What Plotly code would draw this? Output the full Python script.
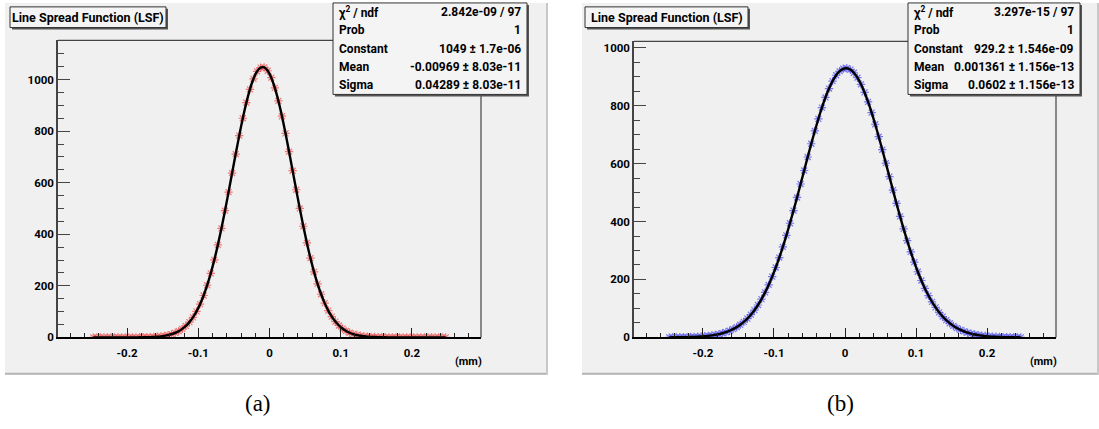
import plotly.graph_objects as go

# ---------------- data ----------------
bin_low, bin_high, n_bins = -0.25, 0.25, 100
bin_width = (bin_high - bin_low) / n_bins
x_mm = [round(bin_low + bin_width * (i + 0.5), 4) for i in range(n_bins)]

lsf_a = [0.0, 0.0, 0.0, 0.0, 0.0, 0.0, 0.0, 0.0, 0.0, 0.0,
         0.1, 0.1, 0.2, 0.3, 0.5, 0.8, 1.2, 1.8, 2.8, 4.1,
         6.0, 8.7, 12.4, 17.4, 24.1, 33.0, 44.5, 59.3, 77.9, 100.9,
         129.0, 162.6, 202.4, 248.3, 300.6, 359.0, 422.9, 491.5, 563.6, 637.5,
         711.3, 782.8, 850.1, 910.7, 962.4, 1003.2, 1031.8, 1046.7, 1047.6, 1034.4,
         1007.5, 968.1, 917.6, 858.0, 791.5, 720.4, 646.6, 572.7, 500.3, 431.2,
         366.6, 307.5, 254.4, 207.7, 167.3, 132.9, 104.1, 80.5, 61.4, 46.2,
         34.3, 25.1, 18.1, 12.9, 9.1, 6.3, 4.3, 2.9, 1.9, 1.3,
         0.8, 0.5, 0.3, 0.2, 0.1, 0.1, 0.0, 0.0, 0.0, 0.0,
         0.0, 0.0, 0.0, 0.0, 0.0, 0.0, 0.0, 0.0, 0.0, 0.0]

lsf_b = [0.2, 0.3, 0.4, 0.5, 0.7, 0.9, 1.3, 1.7, 2.3, 3.0,
         4.0, 5.2, 6.8, 8.8, 11.3, 14.4, 18.2, 22.9, 28.6, 35.4,
         43.7, 53.5, 65.0, 78.4, 94.0, 111.9, 132.3, 155.4, 181.1, 209.8,
         241.3, 275.6, 312.6, 352.1, 394.0, 437.8, 483.0, 529.4, 576.1, 622.7,
         668.4, 712.6, 754.4, 793.2, 828.3, 859.0, 884.7, 904.9, 919.2, 927.3,
         929.0, 924.4, 913.4, 896.4, 873.6, 845.6, 812.8, 776.0, 735.7, 692.7,
         647.8, 601.5, 554.8, 508.2, 462.3, 417.6, 374.7, 333.8, 295.4, 259.6,
         226.6, 196.4, 169.1, 144.5, 122.7, 103.5, 86.6, 72.0, 59.5, 48.8,
         39.8, 32.2, 25.8, 20.6, 16.3, 12.9, 10.1, 7.8, 6.0, 4.6,
         3.5, 2.6, 2.0, 1.5, 1.1, 0.8, 0.6, 0.4, 0.3, 0.2]

x_tickvals = [-0.2, -0.1, 0.0, 0.1, 0.2]
x_ticktext = ["-0.2", "-0.1", "0", "0.1", "0.2"]
y_tickvals = [0, 200, 400, 600, 800, 1000]
y_ticktext = ["0", "200", "400", "600", "800", "1000"]

title_text = "Line Spread Function (LSF)"
stat_names = ["χ<sup>2</sup> / ndf", "Prob", "Constant", "Mean", "Sigma"]
stats_a = ["2.842e-09 / 97", "1", "1049 ± 1.7e-06", "-0.00969 ± 8.03e-11", "0.04289 ± 8.03e-11"]
stats_b = ["3.297e-15 / 97", "1", "929.2 ± 1.546e-09", "0.001361 ± 1.156e-13", "0.0602 ± 1.156e-13"]
panel_labels = ["(a)", "(b)"]
x_title = "(mm)"

# ---------------- layout helpers ----------------
W, H = 1099, 429
def px(x):
    return x / W
def py(y):
    return 1 - y / H

FONT = "Roboto, Liberation Sans, Arial, sans-serif"
CANVAS = "#f0f0f0"

panels = [
    dict(data=lsf_a, stats=stats_a, marker="rgba(235,70,70,0.7)",
         frame=(58, 481, 41, 343), yr=[0, 1152.4],
         canvas=(5, 548, 3, 381), title=(10, 166, 7, 28),
         sbox=(333, 527, 3, 96), label_x=258, xt_x=468),
    dict(data=lsf_b, stats=stats_b, marker="rgba(70,70,235,0.7)",
         frame=(634, 1056, 42, 343), yr=[0, 1022],
         canvas=(582, 1099, 3, 381), title=(585, 748, 7, 28),
         sbox=(908, 1080, 3, 96), label_x=840, xt_x=1043),
]

fig = go.Figure()
shapes = []
annotations = []
layout_axes = {}

for k, p in enumerate(panels):
    xa = "x" if k == 0 else "x2"
    ya = "y" if k == 0 else "y2"
    fig.add_trace(go.Scatter(
        x=x_mm, y=p["data"], mode="markers", xaxis=xa, yaxis=ya,
        marker=dict(symbol="asterisk-open", size=7, color=p["marker"],
                    line=dict(color=p["marker"], width=1.2)),
        showlegend=False, hoverinfo="skip"))
    fig.add_trace(go.Scatter(
        x=x_mm, y=p["data"], mode="lines", xaxis=xa, yaxis=ya,
        line=dict(color="black", width=2.4, shape="spline"),
        showlegend=False, hoverinfo="skip"))

    fx0, fx1, fy0, fy1 = p["frame"]
    sfx = "" if k == 0 else "2"
    layout_axes["xaxis" + sfx] = dict(
        domain=[px(fx0), px(fx1)], range=[-0.297, 0.297], anchor=ya,
        tickmode="array", tickvals=x_tickvals, ticktext=x_ticktext,
        ticks="inside", ticklen=9, tickwidth=1.2, tickcolor="#222",
        minor=dict(tick0=0, dtick=0.02, ticks="inside", ticklen=4.5,
                   tickwidth=1.2, tickcolor="#222", showgrid=False),
        showgrid=False, zeroline=False, showline=True, linecolor="black",
        linewidth=2.2, ticklabelstandoff=4,
        tickfont=dict(family=FONT, size=11.5, color="black", weight="bold"),
        fixedrange=True)
    layout_axes["yaxis" + sfx] = dict(
        domain=[py(fy1), py(fy0)], range=p["yr"], anchor=xa,
        tickmode="array", tickvals=y_tickvals, ticktext=y_ticktext,
        ticks="inside", ticklen=12, tickwidth=1.2, tickcolor="#444",
        minor=dict(tick0=0, dtick=50, ticks="inside", ticklen=6,
                   tickwidth=1.2, tickcolor="#444", showgrid=False),
        showgrid=False, zeroline=False, showline=True, linecolor="#444",
        linewidth=1.5, tickfont=dict(family=FONT, size=11.5, color="black", weight="bold"),
        fixedrange=True)

    # canvas
    cx0, cx1, cy0, cy1 = p["canvas"]
    shapes.append(dict(type="rect", xref="paper", yref="paper", layer="below",
                       x0=px(cx0), x1=px(cx1), y0=py(cy1), y1=py(cy0),
                       fillcolor=CANVAS, line=dict(width=0)))
    shapes.append(dict(type="line", xref="paper", yref="paper", layer="below",
                       x0=px(cx0), x1=px(cx1), y0=py(cy1 - 1), y1=py(cy1 - 1),
                       line=dict(color="#b4b4b4", width=2)))
    shapes.append(dict(type="line", xref="paper", yref="paper", layer="below",
                       x0=px(cx1 - 1), x1=px(cx1 - 1), y0=py(cy1), y1=py(cy0),
                       line=dict(color="#c8c8c8", width=2)))
    # frame top/right lines
    shapes.append(dict(type="line", xref="paper", yref="paper", layer="below",
                       x0=px(fx0), x1=px(fx1), y0=py(fy0), y1=py(fy0),
                       line=dict(color="#444", width=1.2)))
    shapes.append(dict(type="line", xref="paper", yref="paper", layer="below",
                       x0=px(fx1), x1=px(fx1), y0=py(fy0), y1=py(fy1),
                       line=dict(color="#444", width=1.2)))

    # title box with shadow
    tx0, tx1, ty0, ty1 = p["title"]
    shapes.append(dict(type="rect", xref="paper", yref="paper", layer="above",
                       x0=px(tx0 + 2), x1=px(tx1 + 2), y0=py(ty1 + 2), y1=py(ty0 + 2),
                       fillcolor="#555", line=dict(width=0)))
    shapes.append(dict(type="rect", xref="paper", yref="paper", layer="above",
                       x0=px(tx0), x1=px(tx1), y0=py(ty1), y1=py(ty0),
                       fillcolor="#f4f4f4", line=dict(color="#333", width=1)))
    annotations.append(dict(xref="paper", yref="paper", x=px((tx0 + tx1) / 2),
                            y=py((ty0 + ty1) / 2), text=title_text, showarrow=False,
                            xanchor="center", yanchor="middle",
                            font=dict(family=FONT, size=12.5, color="black", weight="bold")))

    # stats box with shadow
    sx0, sx1, sy0, sy1 = p["sbox"]
    shapes.append(dict(type="rect", xref="paper", yref="paper", layer="above",
                       x0=px(sx0 + 2), x1=px(sx1 + 2), y0=py(sy1 + 2), y1=py(sy0 + 2),
                       fillcolor="#555", line=dict(width=0)))
    shapes.append(dict(type="rect", xref="paper", yref="paper", layer="above",
                       x0=px(sx0), x1=px(sx1), y0=py(sy1), y1=py(sy0),
                       fillcolor="#f4f4f4", line=dict(color="#333", width=1)))
    row_h = (sy1 - sy0) / 5
    for r, (nm, val) in enumerate(zip(stat_names, p["stats"])):
        yc = sy0 + row_h * (r + 0.5)
        annotations.append(dict(xref="paper", yref="paper", x=px(sx0 + 4), y=py(yc),
                                text=nm, showarrow=False, xanchor="left", yanchor="middle",
                                font=dict(family=FONT, size=12, color="black", weight="bold")))
        annotations.append(dict(xref="paper", yref="paper", x=px(sx1 - 4), y=py(yc),
                                text=val, showarrow=False, xanchor="right", yanchor="middle",
                                font=dict(family=FONT, size=12, color="black", weight="bold")))

    # x title
    annotations.append(dict(xref="paper", yref="paper", x=px(p["xt_x"]), y=py(367),
                            text=x_title, showarrow=False, xanchor="center", yanchor="middle",
                            font=dict(family=FONT, size=11, color="black", weight="bold")))
    # panel label
    annotations.append(dict(xref="paper", yref="paper", x=px(p["label_x"]), y=py(410),
                            text=panel_labels[k], showarrow=False, xanchor="center",
                            yanchor="middle",
                            font=dict(family="Liberation Serif, DejaVu Serif, serif",
                                      size=23, color="black")))

fig.update_layout(
    width=W, height=H, margin=dict(l=0, r=0, t=0, b=0),
    paper_bgcolor="white", plot_bgcolor="rgba(0,0,0,0)",
    shapes=shapes, annotations=annotations, **layout_axes)

fig.write_html("out.html", config={"displayModeBar": False},
               post_script="document.body.style.margin='0';"
                           "document.body.style.overflow='hidden';")
